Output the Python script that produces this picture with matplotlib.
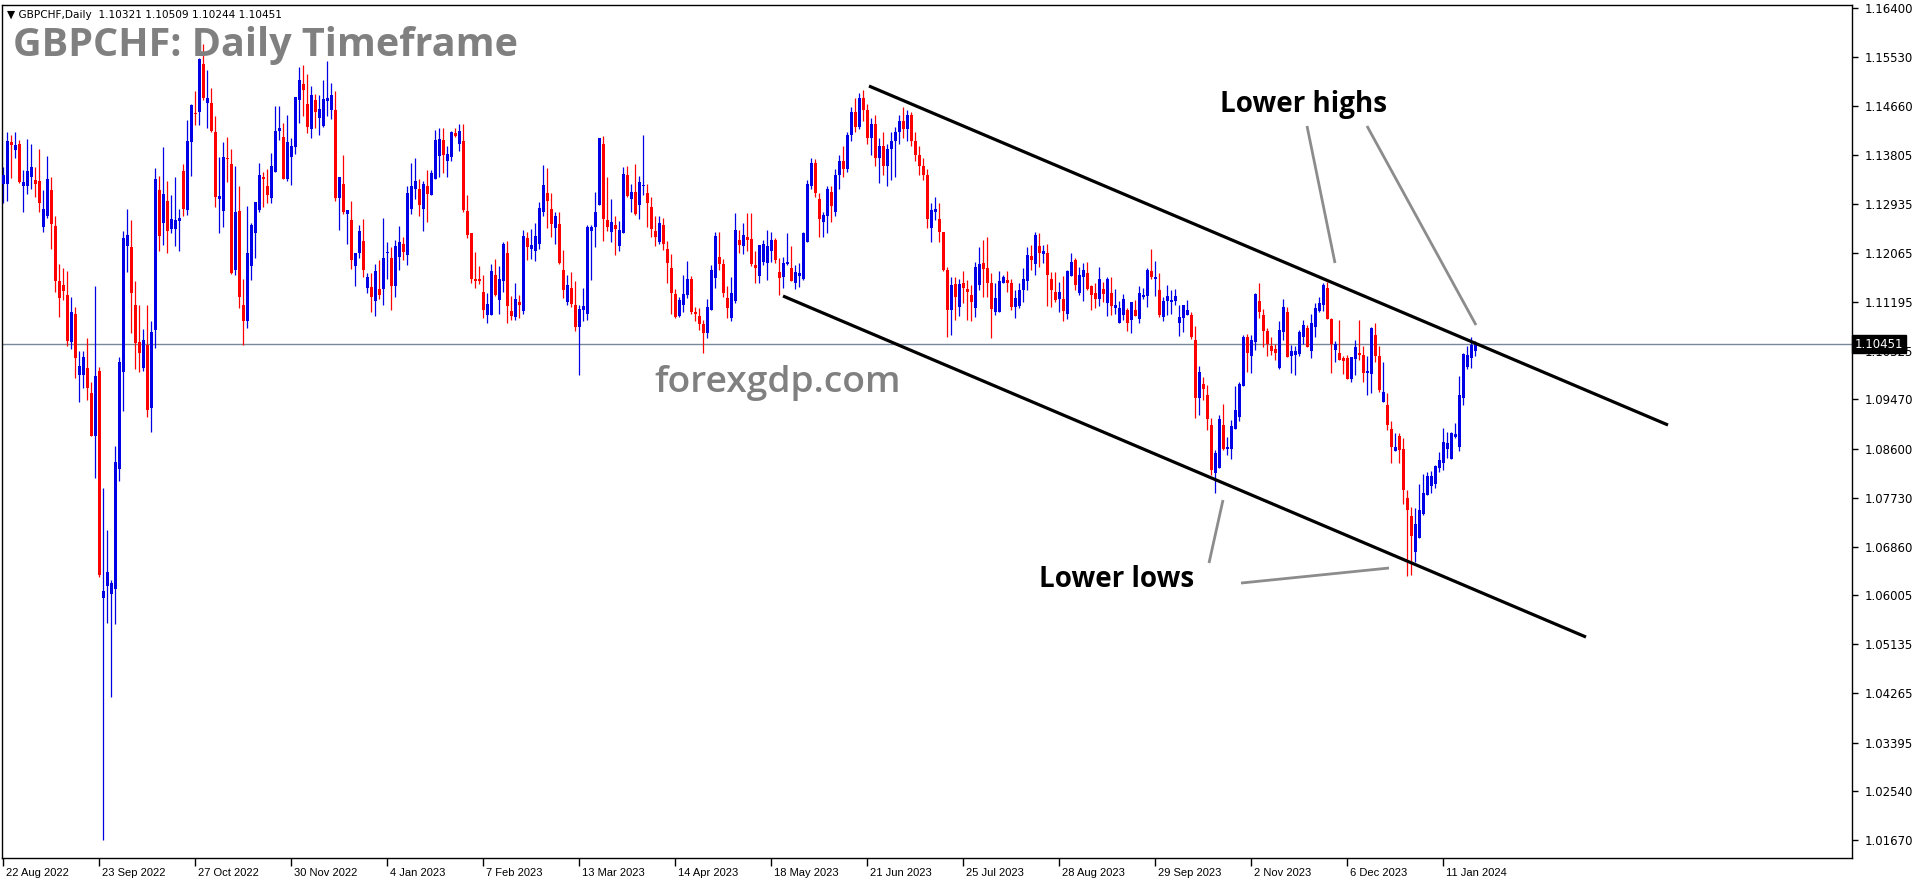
import matplotlib
matplotlib.use("Agg")
import matplotlib.pyplot as plt
import matplotlib.transforms as mtransforms
import numpy as np

# ---------------------------------------------------------------
#  GBPCHF daily candles, 22 Aug 2022 .. 23 Jan 2024
# ---------------------------------------------------------------
opens = [
    1.1329, 1.1328, 1.1403, 1.1388, 1.1400, 1.1324, 1.1324, 1.1341, 1.1335, 1.1333,
    1.1253, 1.1272, 1.1318, 1.1254, 1.1156, 1.1150, 1.1132, 1.1049, 1.1098, 1.0991,
    1.0991, 1.1002, 1.0959, 1.0882, 1.0998, 1.0596, 1.0617, 1.0603, 1.0611, 1.0823,
    1.0996, 1.1219, 1.1217, 1.1115, 1.1049, 1.1002, 1.1044, 1.0931, 1.1070, 1.1317,
    1.1260, 1.1299, 1.1248, 1.1248, 1.1263, 1.1352, 1.1283, 1.1403, 1.1454, 1.1455,
    1.1540, 1.1472, 1.1472, 1.1421, 1.1302, 1.1281, 1.1375, 1.1363, 1.1176, 1.1281,
    1.1114, 1.1086, 1.1184, 1.1241, 1.1282, 1.1341, 1.1324, 1.1304, 1.1350, 1.1423,
    1.1412, 1.1337, 1.1376, 1.1394, 1.1477, 1.1506, 1.1470, 1.1426, 1.1477, 1.1446,
    1.1431, 1.1476, 1.1460, 1.1459, 1.1304, 1.1328, 1.1275, 1.1265, 1.1184, 1.1206,
    1.1227, 1.1145, 1.1146, 1.1122, 1.1143, 1.1142, 1.1207, 1.1197, 1.1147, 1.1200,
    1.1222, 1.1203, 1.1285, 1.1319, 1.1320, 1.1285, 1.1325, 1.1309, 1.1337, 1.1378,
    1.1406, 1.1370, 1.1376, 1.1419, 1.1399, 1.1405, 1.1281, 1.1242, 1.1160, 1.1160,
    1.1137, 1.1096, 1.1096, 1.1167, 1.1123, 1.1157, 1.1207, 1.1104, 1.1093, 1.1119,
    1.1104, 1.1233, 1.1213, 1.1210, 1.1222, 1.1279, 1.1313, 1.1284, 1.1251, 1.1258,
    1.1176, 1.1120, 1.1144, 1.1114, 1.1075, 1.1105, 1.1099, 1.1246, 1.1252, 1.1291,
    1.1400, 1.1265, 1.1244, 1.1256, 1.1219, 1.1241, 1.1344, 1.1302, 1.1314, 1.1292,
    1.1324, 1.1312, 1.1287, 1.1245, 1.1226, 1.1256, 1.1214, 1.1179, 1.1133, 1.1095,
    1.1115, 1.1131, 1.1160, 1.1101, 1.1095, 1.1080, 1.1065, 1.1105, 1.1162, 1.1199,
    1.1187, 1.1126, 1.1092, 1.1122, 1.1229, 1.1219, 1.1234, 1.1231, 1.1185, 1.1166,
    1.1190, 1.1189, 1.1210, 1.1229, 1.1173, 1.1163, 1.1187, 1.1179, 1.1154, 1.1166,
    1.1161, 1.1226, 1.1325, 1.1365, 1.1301, 1.1262, 1.1272, 1.1314, 1.1278, 1.1345,
    1.1370, 1.1355, 1.1415, 1.1455, 1.1430, 1.1480, 1.1460, 1.1410, 1.1435, 1.1375,
    1.1395, 1.1360, 1.1390, 1.1405, 1.1420, 1.1440, 1.1425, 1.1450, 1.1405, 1.1380,
    1.1360, 1.1345, 1.1250, 1.1278, 1.1266, 1.1244, 1.1176, 1.1105, 1.1151, 1.1110,
    1.1154, 1.1142, 1.1132, 1.1108, 1.1150, 1.1188, 1.1179, 1.1153, 1.1101, 1.1101,
    1.1154, 1.1158, 1.1154, 1.1111, 1.1113, 1.1140, 1.1157, 1.1201, 1.1186, 1.1219,
    1.1204, 1.1206, 1.1160, 1.1138, 1.1125, 1.1125, 1.1098, 1.1165, 1.1194, 1.1136,
    1.1163, 1.1171, 1.1147, 1.1136, 1.1125, 1.1142, 1.1118, 1.1136, 1.1109, 1.1083,
    1.1096, 1.1106, 1.1088, 1.1106, 1.1089, 1.1129, 1.1130, 1.1175, 1.1160, 1.1141,
    1.1093, 1.1122, 1.1120, 1.1122, 1.1083, 1.1091, 1.1096, 1.1096, 1.1052, 1.0950,
    1.0975, 1.0955, 1.0902, 1.0816, 1.0825, 1.0902, 1.0859, 1.0859, 1.0894, 1.0915,
    1.0971, 1.1057, 1.1024, 1.1049, 1.1121, 1.1096, 1.1069, 1.1042, 1.1036, 1.1002,
    1.1067, 1.1102, 1.1023, 1.1026, 1.1027, 1.1058, 1.1074, 1.1032, 1.1076, 1.1104,
    1.1115, 1.1144, 1.1089, 1.1034, 1.1029, 1.1021, 1.1020, 1.0983, 1.1018, 1.1029,
    1.1026, 1.0993, 1.0992, 1.1061, 1.1023, 1.0943, 1.0937, 1.0895, 1.0856, 1.0882,
    1.0859, 1.0772, 1.0741, 1.0677, 1.0701, 1.0745, 1.0778, 1.0793, 1.0798, 1.0825,
    1.0835, 1.0860, 1.0841, 1.0880, 1.0863, 1.0949, 1.1004, 1.1020, 1.10321,
]
highs = [
    1.1359, 1.1421, 1.1416, 1.1420, 1.1406, 1.1354, 1.1408, 1.1399, 1.1359, 1.1391,
    1.1317, 1.1378, 1.1341, 1.1272, 1.1187, 1.1180, 1.1174, 1.1128, 1.1110, 1.1032,
    1.1032, 1.1056, 1.0978, 1.1147, 1.1004, 1.0790, 1.0715, 1.0628, 1.0865, 1.1022,
    1.1245, 1.1284, 1.1265, 1.1156, 1.1114, 1.1071, 1.1114, 1.1085, 1.1356, 1.1343,
    1.1394, 1.1333, 1.1309, 1.1341, 1.1285, 1.1364, 1.1442, 1.1470, 1.1493, 1.1552,
    1.1577, 1.1530, 1.1498, 1.1448, 1.1376, 1.1402, 1.1412, 1.1391, 1.1360, 1.1324,
    1.1161, 1.1289, 1.1260, 1.1297, 1.1365, 1.1350, 1.1355, 1.1383, 1.1466, 1.1466,
    1.1436, 1.1451, 1.1409, 1.1483, 1.1536, 1.1539, 1.1523, 1.1502, 1.1488, 1.1486,
    1.1513, 1.1546, 1.1507, 1.1493, 1.1341, 1.1380, 1.1283, 1.1298, 1.1207, 1.1256,
    1.1266, 1.1170, 1.1171, 1.1187, 1.1194, 1.1268, 1.1225, 1.1217, 1.1229, 1.1254,
    1.1235, 1.1324, 1.1365, 1.1375, 1.1338, 1.1333, 1.1353, 1.1353, 1.1424, 1.1428,
    1.1427, 1.1396, 1.1423, 1.1427, 1.1435, 1.1435, 1.1309, 1.1242, 1.1208, 1.1183,
    1.1167, 1.1136, 1.1187, 1.1196, 1.1183, 1.1225, 1.1227, 1.1130, 1.1154, 1.1132,
    1.1247, 1.1244, 1.1248, 1.1260, 1.1297, 1.1362, 1.1356, 1.1313, 1.1279, 1.1279,
    1.1212, 1.1167, 1.1173, 1.1157, 1.1114, 1.1144, 1.1256, 1.1255, 1.1315, 1.1410,
    1.1413, 1.1341, 1.1302, 1.1272, 1.1263, 1.1359, 1.1360, 1.1328, 1.1364, 1.1343,
    1.1415, 1.1328, 1.1306, 1.1271, 1.1271, 1.1268, 1.1227, 1.1204, 1.1143, 1.1129,
    1.1167, 1.1192, 1.1166, 1.1110, 1.1108, 1.1088, 1.1125, 1.1185, 1.1244, 1.1244,
    1.1195, 1.1148, 1.1163, 1.1277, 1.1247, 1.1259, 1.1277, 1.1277, 1.1209, 1.1220,
    1.1229, 1.1247, 1.1244, 1.1232, 1.1197, 1.1199, 1.1241, 1.1218, 1.1185, 1.1188,
    1.1244, 1.1336, 1.1375, 1.1372, 1.1312, 1.1279, 1.1324, 1.1324, 1.1355, 1.1380,
    1.1395, 1.1420, 1.1465, 1.1480, 1.1490, 1.1495, 1.1470, 1.1445, 1.1450, 1.1410,
    1.1420, 1.1400, 1.1420, 1.1430, 1.1450, 1.1465, 1.1460, 1.1455, 1.1420, 1.1395,
    1.1375, 1.1355, 1.1294, 1.1306, 1.1294, 1.1244, 1.1181, 1.1164, 1.1164, 1.1161,
    1.1175, 1.1158, 1.1150, 1.1191, 1.1217, 1.1229, 1.1235, 1.1170, 1.1153, 1.1175,
    1.1167, 1.1174, 1.1160, 1.1141, 1.1153, 1.1179, 1.1217, 1.1220, 1.1244, 1.1241,
    1.1220, 1.1222, 1.1173, 1.1173, 1.1155, 1.1165, 1.1177, 1.1207, 1.1197, 1.1182,
    1.1189, 1.1191, 1.1150, 1.1153, 1.1182, 1.1155, 1.1164, 1.1163, 1.1142, 1.1122,
    1.1134, 1.1108, 1.1120, 1.1123, 1.1147, 1.1144, 1.1179, 1.1214, 1.1192, 1.1171,
    1.1129, 1.1150, 1.1140, 1.1142, 1.1114, 1.1114, 1.1123, 1.1102, 1.1077, 1.1006,
    1.0987, 1.0973, 1.0914, 1.0857, 1.0919, 1.0939, 1.0881, 1.0911, 1.0971, 1.0978,
    1.1061, 1.1063, 1.1061, 1.1135, 1.1154, 1.1107, 1.1073, 1.1058, 1.1046, 1.1086,
    1.1124, 1.1111, 1.1043, 1.1042, 1.1070, 1.1088, 1.1079, 1.1099, 1.1117, 1.1129,
    1.1153, 1.1155, 1.1092, 1.1050, 1.1088, 1.1023, 1.1026, 1.1022, 1.1053, 1.1088,
    1.1042, 1.1023, 1.1076, 1.1083, 1.1042, 1.1014, 1.0958, 1.0908, 1.0887, 1.0887,
    1.0879, 1.0787, 1.0757, 1.0754, 1.0797, 1.0815, 1.0819, 1.0821, 1.0831, 1.0854,
    1.0896, 1.0890, 1.0889, 1.0905, 1.0988, 1.1029, 1.1042, 1.1058, 1.10509,
]
lows = [
    1.1294, 1.1299, 1.1339, 1.1374, 1.1330, 1.1279, 1.1311, 1.1320, 1.1305, 1.1279,
    1.1243, 1.1269, 1.1213, 1.1137, 1.1093, 1.1123, 1.1041, 1.1036, 1.0985, 1.0942,
    1.0968, 1.0946, 1.0882, 1.0808, 1.0632, 1.0167, 1.0551, 1.0420, 1.0549, 1.0802,
    1.0926, 1.1173, 1.1064, 1.1001, 1.0996, 1.0998, 1.0916, 1.0890, 1.1038, 1.1210,
    1.1221, 1.1206, 1.1242, 1.1219, 1.1209, 1.1272, 1.1274, 1.1343, 1.1433, 1.1433,
    1.1478, 1.1427, 1.1421, 1.1287, 1.1242, 1.1253, 1.1332, 1.1169, 1.1167, 1.1108,
    1.1043, 1.1073, 1.1158, 1.1197, 1.1279, 1.1288, 1.1294, 1.1295, 1.1350, 1.1406,
    1.1338, 1.1333, 1.1327, 1.1381, 1.1436, 1.1449, 1.1419, 1.1409, 1.1427, 1.1415,
    1.1430, 1.1449, 1.1443, 1.1299, 1.1247, 1.1276, 1.1222, 1.1178, 1.1147, 1.1197,
    1.1163, 1.1135, 1.1102, 1.1095, 1.1124, 1.1114, 1.1160, 1.1106, 1.1129, 1.1177,
    1.1193, 1.1185, 1.1276, 1.1301, 1.1272, 1.1246, 1.1262, 1.1309, 1.1337, 1.1340,
    1.1347, 1.1340, 1.1370, 1.1412, 1.1387, 1.1279, 1.1233, 1.1154, 1.1145, 1.1151,
    1.1091, 1.1082, 1.1096, 1.1130, 1.1098, 1.1138, 1.1082, 1.1088, 1.1088, 1.1091,
    1.1098, 1.1194, 1.1196, 1.1192, 1.1214, 1.1272, 1.1250, 1.1235, 1.1222, 1.1187,
    1.1127, 1.1114, 1.1111, 1.1068, 1.0990, 1.1085, 1.1088, 1.1158, 1.1217, 1.1291,
    1.1228, 1.1246, 1.1226, 1.1203, 1.1210, 1.1241, 1.1306, 1.1278, 1.1274, 1.1266,
    1.1309, 1.1252, 1.1235, 1.1219, 1.1222, 1.1212, 1.1154, 1.1099, 1.1091, 1.1093,
    1.1102, 1.1126, 1.1099, 1.1085, 1.1070, 1.1030, 1.1055, 1.1105, 1.1144, 1.1176,
    1.1128, 1.1091, 1.1085, 1.1117, 1.1207, 1.1205, 1.1210, 1.1183, 1.1154, 1.1154,
    1.1185, 1.1158, 1.1191, 1.1188, 1.1132, 1.1144, 1.1185, 1.1157, 1.1142, 1.1146,
    1.1158, 1.1226, 1.1320, 1.1306, 1.1235, 1.1235, 1.1241, 1.1262, 1.1272, 1.1320,
    1.1340, 1.1350, 1.1405, 1.1420, 1.1425, 1.1440, 1.1400, 1.1380, 1.1360, 1.1330,
    1.1345, 1.1325, 1.1335, 1.1340, 1.1400, 1.1410, 1.1405, 1.1395, 1.1370, 1.1345,
    1.1335, 1.1250, 1.1226, 1.1265, 1.1225, 1.1175, 1.1058, 1.1061, 1.1088, 1.1094,
    1.1117, 1.1088, 1.1086, 1.1093, 1.1141, 1.1129, 1.1128, 1.1055, 1.1096, 1.1101,
    1.1153, 1.1138, 1.1105, 1.1091, 1.1108, 1.1120, 1.1141, 1.1176, 1.1167, 1.1182,
    1.1188, 1.1112, 1.1111, 1.1120, 1.1102, 1.1086, 1.1089, 1.1165, 1.1141, 1.1132,
    1.1122, 1.1141, 1.1106, 1.1108, 1.1112, 1.1120, 1.1095, 1.1096, 1.1098, 1.1083,
    1.1088, 1.1069, 1.1065, 1.1095, 1.1083, 1.1124, 1.1111, 1.1160, 1.1130, 1.1093,
    1.1085, 1.1096, 1.1098, 1.1114, 1.1060, 1.1067, 1.1096, 1.1054, 1.0914, 1.0919,
    1.0946, 1.0893, 1.0813, 1.0781, 1.0825, 1.0857, 1.0849, 1.0841, 1.0894, 1.0908,
    1.0971, 1.0996, 1.0993, 1.1034, 1.1091, 1.1039, 1.1024, 1.1026, 1.1017, 1.1000,
    1.1052, 1.1022, 1.0993, 1.0990, 1.1023, 1.1046, 1.1040, 1.1020, 1.1058, 1.1102,
    1.1104, 1.1089, 1.0993, 1.1014, 1.1017, 1.0992, 1.0983, 1.0978, 1.0990, 1.1016,
    1.0977, 1.0955, 1.0958, 1.1014, 1.0961, 1.0943, 1.0893, 1.0834, 1.0856, 1.0834,
    1.0762, 1.0634, 1.0636, 1.0660, 1.0701, 1.0742, 1.0778, 1.0781, 1.0790, 1.0819,
    1.0822, 1.0843, 1.0841, 1.0878, 1.0856, 1.0938, 1.1000, 1.1002, 1.10244,
]
closes = [
    1.1344, 1.1405, 1.1397, 1.1397, 1.1332, 1.1332, 1.1352, 1.1359, 1.1328, 1.1294,
    1.1284, 1.1338, 1.1258, 1.1157, 1.1127, 1.1139, 1.1051, 1.1101, 1.1020, 1.1007,
    1.1022, 1.0968, 1.0882, 1.0989, 1.0637, 1.0608, 1.0641, 1.0622, 1.0836, 1.1013,
    1.1233, 1.1238, 1.1136, 1.1047, 1.1029, 1.1052, 1.0929, 1.1067, 1.1338, 1.1236,
    1.1311, 1.1245, 1.1266, 1.1265, 1.1269, 1.1285, 1.1405, 1.1469, 1.1452, 1.1549,
    1.1481, 1.1480, 1.1423, 1.1305, 1.1308, 1.1377, 1.1373, 1.1170, 1.1279, 1.1129,
    1.1086, 1.1207, 1.1256, 1.1296, 1.1344, 1.1338, 1.1309, 1.1360, 1.1422, 1.1428,
    1.1338, 1.1402, 1.1396, 1.1482, 1.1513, 1.1494, 1.1429, 1.1486, 1.1456, 1.1461,
    1.1479, 1.1481, 1.1486, 1.1304, 1.1340, 1.1278, 1.1282, 1.1194, 1.1207, 1.1246,
    1.1176, 1.1164, 1.1129, 1.1174, 1.1132, 1.1197, 1.1208, 1.1148, 1.1219, 1.1226,
    1.1208, 1.1312, 1.1325, 1.1333, 1.1291, 1.1328, 1.1311, 1.1348, 1.1406, 1.1408,
    1.1380, 1.1382, 1.1420, 1.1414, 1.1422, 1.1282, 1.1238, 1.1161, 1.1157, 1.1157,
    1.1105, 1.1116, 1.1174, 1.1132, 1.1160, 1.1222, 1.1112, 1.1095, 1.1125, 1.1114,
    1.1236, 1.1216, 1.1220, 1.1236, 1.1286, 1.1327, 1.1299, 1.1258, 1.1272, 1.1189,
    1.1140, 1.1150, 1.1116, 1.1075, 1.1107, 1.1112, 1.1253, 1.1252, 1.1279, 1.1409,
    1.1267, 1.1253, 1.1261, 1.1248, 1.1247, 1.1346, 1.1307, 1.1314, 1.1276, 1.1332,
    1.1327, 1.1295, 1.1249, 1.1234, 1.1259, 1.1222, 1.1188, 1.1136, 1.1093, 1.1123,
    1.1133, 1.1161, 1.1101, 1.1098, 1.1080, 1.1065, 1.1111, 1.1176, 1.1236, 1.1187,
    1.1135, 1.1108, 1.1135, 1.1247, 1.1220, 1.1238, 1.1229, 1.1187, 1.1179, 1.1220,
    1.1223, 1.1219, 1.1229, 1.1193, 1.1162, 1.1189, 1.1191, 1.1157, 1.1173, 1.1170,
    1.1242, 1.1328, 1.1365, 1.1312, 1.1266, 1.1274, 1.1320, 1.1290, 1.1345, 1.1370,
    1.1355, 1.1415, 1.1455, 1.1430, 1.1480, 1.1460, 1.1410, 1.1435, 1.1375, 1.1395,
    1.1360, 1.1390, 1.1405, 1.1420, 1.1440, 1.1425, 1.1450, 1.1405, 1.1380, 1.1360,
    1.1345, 1.1266, 1.1282, 1.1284, 1.1243, 1.1176, 1.1105, 1.1150, 1.1128, 1.1151,
    1.1145, 1.1138, 1.1120, 1.1181, 1.1187, 1.1178, 1.1153, 1.1107, 1.1126, 1.1157,
    1.1163, 1.1154, 1.1111, 1.1126, 1.1141, 1.1160, 1.1203, 1.1194, 1.1238, 1.1206,
    1.1210, 1.1167, 1.1141, 1.1123, 1.1138, 1.1104, 1.1175, 1.1191, 1.1150, 1.1167,
    1.1176, 1.1142, 1.1132, 1.1125, 1.1161, 1.1134, 1.1161, 1.1112, 1.1114, 1.1108,
    1.1124, 1.1083, 1.1120, 1.1095, 1.1135, 1.1132, 1.1177, 1.1164, 1.1163, 1.1096,
    1.1121, 1.1130, 1.1123, 1.1130, 1.1093, 1.1114, 1.1105, 1.1057, 1.0950, 1.0996,
    1.0965, 1.0912, 1.0822, 1.0853, 1.0912, 1.0859, 1.0862, 1.0900, 1.0929, 1.0975,
    1.1058, 1.1030, 1.1053, 1.1133, 1.1101, 1.1069, 1.1046, 1.1033, 1.1030, 1.1070,
    1.1110, 1.1022, 1.1032, 1.1032, 1.1067, 1.1079, 1.1040, 1.1082, 1.1109, 1.1117,
    1.1150, 1.1089, 1.1045, 1.1045, 1.1017, 1.1015, 1.0983, 1.1022, 1.1039, 1.1026,
    1.0994, 1.0997, 1.1074, 1.1024, 1.0964, 1.0961, 1.0901, 1.0863, 1.0863, 1.0857,
    1.0787, 1.0752, 1.0705, 1.0726, 1.0752, 1.0781, 1.0811, 1.0811, 1.0830, 1.0840,
    1.0871, 1.0870, 1.0887, 1.0885, 1.0955, 1.1027, 1.1026, 1.1043, 1.10451,
]

date_labels = ['22 Aug 2022', '23 Sep 2022', '27 Oct 2022', '30 Nov 2022',
               '4 Jan 2023', '7 Feb 2023', '13 Mar 2023', '14 Apr 2023',
               '18 May 2023', '21 Jun 2023', '25 Jul 2023', '28 Aug 2023',
               '29 Sep 2023', '2 Nov 2023', '6 Dec 2023', '11 Jan 2024']
bars_per_label = 24

price_ticks = [1.16400, 1.15530, 1.14660, 1.13805, 1.12935, 1.12065, 1.11195,
               1.10325, 1.09470, 1.08600, 1.07730, 1.06860, 1.06005, 1.05135,
               1.04265, 1.03395, 1.02540, 1.01670]
last_price = 1.10451

# channel lines drawn on the chart: (bar index, price)
upper_channel = [(216.5, 1.15019), (416.25, 1.09017)]
lower_channel = [(195.0, 1.11301), (395.75, 1.05263)]
# grey pointer lines
pointers = [
    [(326.0, 1.14311), (333.0, 1.11885)],
    [(341.0, 1.14311), (368.25, 1.10787)],
    [(301.5, 1.06574), (305.0, 1.07689)],
    [(309.5, 1.06219), (346.5, 1.06485)],
]
label_highs = (325.0, 1.14683)
label_lows = (278.5, 1.06290)
label_site = (193.75, 1.09760)

# ---------------------------------------------------------------
W, H = 1916, 884
fig = plt.figure(figsize=(W / 100, H / 100), dpi=100)
ax = fig.add_axes([2 / W, (H - 858) / H, (1852 - 2) / W, (858 - 4.5) / H])

o = np.array(opens)
h = np.array(highs)
l = np.array(lows)
c = np.array(closes)
x = np.arange(len(c))
cols = np.where(c >= o, '#0000e6', '#ff0000')

ax.vlines(x, l, h, colors=cols, linewidth=0.9, zorder=2)
body = np.maximum(np.abs(c - o), 0.00018)
ax.bar(x, body, bottom=np.minimum(o, c), width=0.75, color=cols,
       linewidth=0, zorder=3)

ax.axhline(last_price, color='#778899', linewidth=1, zorder=1)

for line in (upper_channel, lower_channel):
    ax.plot([p[0] for p in line], [p[1] for p in line], color='black',
            linewidth=2.3, solid_capstyle='butt', zorder=4)
for line in pointers:
    ax.plot([p[0] for p in line], [p[1] for p in line], color='#8c8c8c',
            linewidth=2.0, solid_capstyle='butt', zorder=4)

ax.text(label_highs[0], label_highs[1], 'Lower highs', ha='center', va='center',
        fontsize=20, fontweight='bold', family='Open Sans', color='black', zorder=5)
ax.text(label_lows[0], label_lows[1], 'Lower lows', ha='center', va='center',
        fontsize=20, fontweight='bold', family='Open Sans', color='black', zorder=5)
ax.text(label_site[0], label_site[1], 'forexgdp.com', ha='center', va='center',
        fontsize=26.8, fontweight='semibold', family='Open Sans', color='#808080', zorder=5)

ax.set_xlim(-0.25, 462.25)
ax.set_ylim(1.01351, 1.16462)

# x axis: dates every 24 bars, label to the right of the tick
ax.set_xticks(np.arange(len(date_labels)) * bars_per_label)
ax.set_xticklabels(date_labels)
ax.tick_params(axis='x', direction='out', length=6, width=1, pad=1,
               labelsize=8)
shift = mtransforms.ScaledTranslation(3 / 100, 0, fig.dpi_scale_trans)
for lab in ax.get_xticklabels():
    lab.set_horizontalalignment('left')
    lab.set_fontfamily('Liberation Sans')
    lab.set_transform(lab.get_transform() + shift)

# y axis on the right
ax.yaxis.tick_right()
ax.set_yticks(price_ticks)
ax.set_yticklabels(['%.5f' % p for p in price_ticks])
ax.tick_params(axis='y', direction='out', length=4, width=1, pad=5,
               labelsize=8.5, colors='black')

for sp in ax.spines.values():
    sp.set_color('black')
    sp.set_linewidth(1)

# current price box on the price scale
ax.text(1.0015, last_price, '%.5f' % last_price,
        transform=mtransforms.blended_transform_factory(ax.transAxes, ax.transData),
        ha='left', va='center', fontsize=8.5, color='white', zorder=10,
        clip_on=False,
        bbox=dict(boxstyle='square,pad=0.22', facecolor='black', edgecolor='black'))

# header and title
fig.text(7 / W, 1 - 18 / H,
         '\u25bc GBPCHF,Daily  %.5f %.5f %.5f %.5f' % (opens[-1], highs[-1], lows[-1], closes[-1]),
         fontsize=7.6, color='black', ha='left', va='baseline')
fig.text(13 / W, 1 - 56 / H, 'GBPCHF: Daily Timeframe', fontsize=28.5,
         fontweight='bold', family='Open Sans', color='#808080',
         ha='left', va='baseline')

fig.savefig('out.png', dpi=100, facecolor='white')
